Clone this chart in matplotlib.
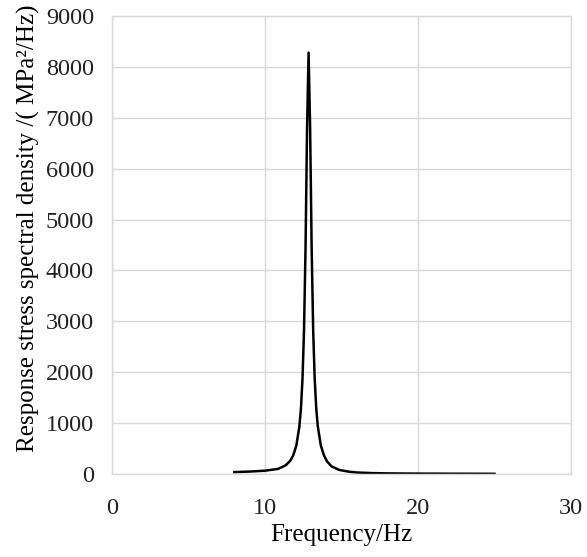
import numpy as np
import matplotlib.pyplot as plt

# values
freq = [8.0, 9.0, 10.0, 10.85, 11.35, 11.65, 11.85, 12.05, 12.25, 12.35, 12.45,
        12.55, 12.65, 12.75, 12.85, 12.95, 13.05, 13.15, 13.25, 13.35, 13.45,
        13.65, 13.85, 14.05, 14.35, 14.85, 15.5, 16.0, 17.0, 18.0, 20.0, 22.0, 25.0]
psd = [38, 48, 65, 100, 170, 260, 370, 560, 940, 1290, 1860,
       2810, 4440, 6800, 8280, 6800, 4440, 2810, 1860, 1290, 940,
       560, 370, 250, 150, 80, 45, 30, 18, 12, 8, 6, 4]

xticks = [0, 10, 20, 30]
yticks = [0, 1000, 2000, 3000, 4000, 5000, 6000, 7000, 8000, 9000]

plt.rcParams['font.family'] = ['Liberation Serif', 'DejaVu Serif']

fig = plt.figure(figsize=(5.87, 5.57), dpi=100)
ax = fig.add_axes([0.1908, 0.149, 0.7819, 0.8223])

ax.plot(freq, psd, color='black', lw=1.8)

ax.set_xlim(0, 30)
ax.set_ylim(0, 9000)
ax.set_xticks(xticks)
ax.set_yticks(yticks)
ax.grid(True, color='#d9d9d9', lw=1.0)
ax.set_axisbelow(True)
for s in ax.spines.values():
    s.set_color('#d9d9d9')
    s.set_linewidth(1.0)
ax.tick_params(length=0, labelsize=17.5, pad=13, colors='#222222')
ax.tick_params(axis='x', pad=17)

ax.set_xlabel('Frequency/Hz', fontsize=18, labelpad=4)
ax.set_ylabel('Response stress spectral density /( MPa\u00b2/Hz)', fontsize=18)
ax.yaxis.set_label_coords(-0.156, 0.536)

fig.savefig('out.png', dpi=100)
